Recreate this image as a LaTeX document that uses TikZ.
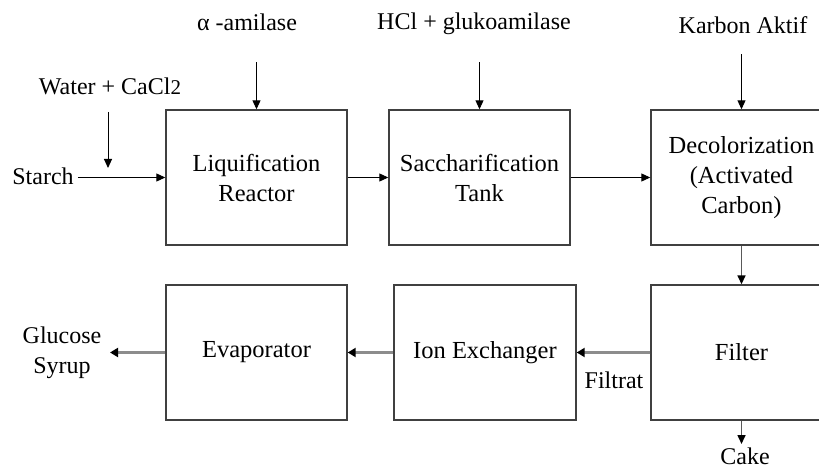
\documentclass[tikz,border=0pt]{standalone}
\usepackage{fontspec}
\setmainfont{Liberation Serif}
\usetikzlibrary{arrows.meta}
\begin{document}
\begin{tikzpicture}[x=1pt,y=-1pt,
  box/.style={draw=black!75,line width=1.4pt,minimum width=181pt,minimum height=135pt,inner sep=0pt,align=center,font=\fontsize{24.5}{30}\selectfont},
  lbl/.style={inner sep=0pt,anchor=base,font=\fontsize{24}{30}\selectfont,align=center},
  arr/.style={line width=1pt,-{Triangle[length=9pt,width=8pt]}},
  darr/.style={draw=black!65,line width=1.6pt,-{Triangle[length=9pt,width=8pt,color=black]}},
  garr/.style={draw=black!45,line width=2.2pt,-{Triangle[length=8pt,width=9pt,color=black]}}]
\useasboundingbox (0,0) rectangle (819,470);
\clip (0,0) rectangle (819,470);
% boxes
\node[box] (liq) at (256.5,177.5) {Liquification\\Reactor};
\node[box] (sac) at (479.5,177.5) {Saccharification\\Tank};
\node[box] (dec) at (741.5,177.5) {Decolorization\\(Activated\\Carbon)};
\node[box] (eva) at (256.5,352.5) {Evaporator};
\node[box,minimum width=182pt] (ion) at (485,352.5) {Ion Exchanger};
\node[box] (fil) at (741.5,352.5) {Filter};
% labels
\node[lbl] (starch) at (43,185) {Starch};
\node[lbl] (water) at (110,95) {Water + CaCl{\fontsize{21}{21}\selectfont 2}};
\node[lbl] (amy) at (247,31) {α -amilase};
\node[lbl] (hcl) at (474,30) {HCl + glukoamilase};
\node[lbl] (karbon) at (743,34) {Karbon Aktif};
\node[lbl] (cake) at (745,464) {Cake};
\node[lbl] (filtrat) at (614,388) {Filtrat};
\node[lbl,anchor=center] (glucose) at (62,353) {Glucose\\Syrup};
% coordinates
\coordinate (wtop) at (108,112);
\coordinate (wend) at (108,168);
\coordinate (cakeend) at (741.5,444);
\coordinate (glend) at (110,352.5);
% connectors
\draw[arr] ([xshift=4pt]starch.east |- liq.west) -- (liq.west);
\draw[arr] (wtop) -- (wend);
\draw[arr] ([yshift=47pt]liq.north) -- (liq.north);
\draw[arr] ([yshift=47pt]sac.north) -- (sac.north);
\draw[arr] ([yshift=55pt]dec.north) -- (dec.north);
\draw[arr] (liq.east) -- (sac.west);
\draw[arr] (sac.east) -- (dec.west);
\draw[darr] (dec.south) -- (fil.north);
\draw[darr] (fil.south) -- (cakeend);
\draw[garr] (fil.west) -- (ion.east);
\draw[garr] (ion.west) -- (eva.east);
\draw[garr] (eva.west) -- (glend);
\end{tikzpicture}
\end{document}
